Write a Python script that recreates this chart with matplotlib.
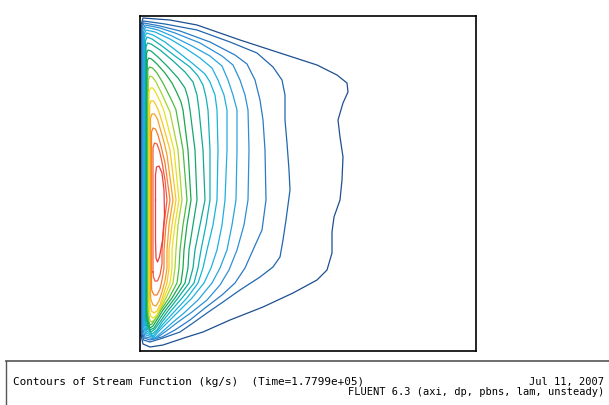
import matplotlib
matplotlib.use("Agg")
import matplotlib.pyplot as plt
from matplotlib.lines import Line2D

# domain size (mm): radius x height
R_MAX = 33.6
Z_MAX = 33.5

# stream function contour lines, (r, z) in mm, outermost (lowest psi) first
c01 = [(0.1, 1.6), (0.1, 32.6), (0.3, 33.3), (3.0, 33.1), (5.7, 32.6), (10.0, 31.1), (14.0, 29.8),
       (17.7, 28.6), (19.7, 27.6), (20.7, 26.8), (20.8, 25.9), (20.3, 24.8), (19.8, 23.1), (20.0, 21.4),
       (20.3, 19.4), (20.2, 17.1), (20.0, 15.1), (19.4, 13.4), (19.2, 11.9), (19.2, 9.8), (18.7, 8.1),
       (17.7, 7.1), (15.3, 5.8), (12.3, 4.4), (9.0, 3.1), (6.3, 1.9), (4.7, 1.4), (2.3, 0.6), (1.0, 0.4),
       (0.3, 0.7)]
c02 = [(0.15, 1.9), (0.15, 32.5), (0.35, 33.0), (2.5, 32.7), (5.7, 32.1), (9.0, 30.9), (11.7, 29.8),
       (13.3, 28.4), (14.2, 27.1), (14.5, 25.6), (14.5, 23.1), (14.7, 20.8), (14.9, 18.1), (15.0, 16.1),
       (14.8, 14.6), (14.6, 13.1), (14.3, 11.1), (14.0, 9.4), (13.3, 8.4), (12.0, 7.4), (10.0, 6.1),
       (8.3, 4.9), (6.7, 3.8), (5.3, 2.8), (4.0, 1.9), (2.3, 1.3), (1.0, 0.9), (0.35, 1.1)]
c03 = [(0.2, 2.1), (0.2, 32.3), (0.4, 32.8), (2.0, 32.5), (4.0, 32.0), (7.0, 30.9), (9.5, 29.6),
       (10.7, 28.7), (11.5, 27.1), (12.0, 25.1), (12.3, 23.1), (12.5, 20.1), (12.6, 15.1), (12.2, 12.1),
       (11.3, 10.1), (10.5, 8.3), (9.5, 6.8), (8.2, 5.6), (6.5, 4.3), (5.0, 3.1), (3.5, 2.1), (2.2, 1.4),
       (1.0, 1.1), (0.4, 1.3)]
c04 = [(0.27, 2.3), (0.27, 32.1), (0.5, 32.6), (2.0, 32.3), (3.5, 31.8), (6.0, 30.8), (8.2, 29.5),
       (9.3, 28.6), (10.0, 27.1), (10.5, 25.6), (10.8, 24.1), (10.9, 20.1), (10.8, 15.1), (10.4, 12.6),
       (9.7, 10.1), (8.9, 8.1), (8.0, 6.6), (6.7, 5.1), (5.2, 3.9), (3.8, 2.9), (2.5, 1.9), (1.5, 1.2),
       (0.5, 1.4)]
c05 = [(0.35, 2.5), (0.35, 31.9), (0.55, 32.4), (1.8, 32.1), (3.2, 31.5), (5.2, 30.5), (7.0, 29.5),
       (8.2, 28.5), (8.8, 27.1), (9.3, 25.6), (9.7, 24.1), (9.7, 20.1), (9.6, 15.1), (9.2, 12.6),
       (8.7, 10.1), (8.0, 8.3), (7.2, 6.8), (5.8, 5.1), (4.4, 3.8), (3.2, 2.8), (2.2, 1.9), (1.5, 1.3),
       (0.6, 1.6)]
c06 = [(0.42, 2.7), (0.42, 31.7), (0.6, 32.1), (1.5, 31.9), (3.0, 31.2), (4.5, 30.3), (6.0, 29.3),
       (7.2, 28.3), (7.8, 27.1), (8.4, 25.6), (8.7, 24.1), (8.7, 20.1), (8.5, 15.1), (8.2, 12.6),
       (7.7, 10.1), (7.1, 8.3), (6.4, 6.8), (5.2, 5.3), (3.8, 3.9), (2.7, 2.8), (1.9, 2.0), (1.4, 1.4),
       (0.65, 1.8)]
c07 = [(0.48, 2.9), (0.48, 31.4), (0.65, 31.8), (1.3, 31.6), (2.5, 30.9), (3.8, 29.9), (5.2, 28.8),
       (6.5, 27.7), (7.0, 26.9), (7.5, 25.6), (7.7, 24.1), (7.8, 20.1), (7.7, 15.1), (7.3, 12.6),
       (6.7, 10.1), (6.3, 8.3), (5.8, 6.8), (4.7, 5.3), (3.4, 3.9), (2.4, 2.8), (1.8, 2.1), (1.3, 1.5),
       (0.7, 2.0)]
c08 = [(0.54, 3.1), (0.54, 31.0), (0.7, 31.4), (1.2, 31.2), (2.2, 30.5), (3.5, 29.5), (5.0, 28.4),
       (5.8, 27.5), (6.3, 26.6), (6.6, 25.4), (6.8, 24.1), (7.0, 20.1), (7.0, 15.1), (6.6, 12.6),
       (6.1, 10.1), (5.8, 8.3), (5.4, 6.8), (4.2, 5.3), (3.0, 3.9), (2.2, 2.9), (1.7, 2.1), (1.2, 1.7),
       (0.75, 2.2)]
c09 = [(0.6, 3.3), (0.6, 30.4), (0.75, 30.8), (1.1, 30.7), (2.0, 30.1), (3.2, 29.1), (4.5, 27.9),
       (5.3, 26.9), (5.7, 25.6), (5.9, 24.1), (6.3, 20.1), (6.5, 15.1), (6.0, 12.6), (5.5, 10.1),
       (5.3, 8.3), (4.9, 6.8), (3.8, 5.3), (2.7, 3.9), (2.0, 2.9), (1.5, 2.2), (1.1, 1.9), (0.8, 2.4)]
c10 = [(0.66, 3.5), (0.66, 29.8), (0.8, 30.1), (1.1, 30.0), (1.8, 29.4), (2.8, 28.4), (3.8, 27.3),
       (4.5, 26.3), (4.8, 25.3), (5.0, 24.1), (5.5, 20.1), (5.7, 15.1), (5.3, 12.6), (4.9, 10.1),
       (4.8, 8.3), (4.5, 6.8), (3.5, 5.3), (2.5, 4.0), (1.9, 3.1), (1.4, 2.3), (1.0, 2.1), (0.8, 2.6)]
c11 = [(0.72, 3.7), (0.72, 29.0), (0.87, 29.3), (1.15, 29.2), (1.7, 28.7), (2.5, 27.8), (3.2, 26.8),
       (3.7, 25.8), (4.1, 24.9), (4.3, 24.1), (4.8, 20.1), (5.1, 15.1), (4.7, 12.6), (4.4, 10.1),
       (4.3, 8.3), (4.1, 6.8), (3.2, 5.3), (2.3, 4.1), (1.8, 3.3), (1.3, 2.5), (1.0, 2.3), (0.85, 2.8)]
c12 = [(0.78, 3.9), (0.78, 28.1), (0.95, 28.4), (1.25, 28.3), (1.7, 27.8), (2.3, 26.8), (2.8, 25.8),
       (3.2, 25.0), (3.6, 24.1), (4.3, 20.1), (4.7, 15.1), (4.3, 12.6), (4.0, 10.1), (3.9, 8.3),
       (3.7, 6.8), (2.9, 5.3), (2.1, 4.1), (1.6, 3.3), (1.2, 2.7), (1.0, 2.6), (0.85, 3.1)]
c13 = [(0.84, 4.1), (0.84, 27.1), (1.0, 27.5), (1.25, 27.4), (1.6, 26.9), (2.1, 25.9), (2.5, 25.0),
       (3.0, 23.9), (3.8, 20.1), (4.2, 15.1), (3.8, 12.6), (3.6, 10.1), (3.5, 8.3), (3.3, 6.8),
       (2.6, 5.3), (2.0, 4.1), (1.6, 3.3), (1.2, 2.9), (1.0, 3.0), (0.9, 3.5)]
c14 = [(0.9, 4.6), (0.9, 25.9), (1.05, 26.3), (1.3, 26.3), (1.6, 25.8), (2.0, 25.0), (2.4, 24.0),
       (3.4, 20.1), (3.9, 15.1), (3.5, 12.6), (3.2, 10.1), (3.2, 8.3), (3.0, 6.8), (2.4, 5.3),
       (2.0, 4.3), (1.7, 3.6), (1.3, 3.3), (1.05, 3.5), (0.95, 4.1)]
c15 = [(0.97, 5.1), (0.97, 24.6), (1.1, 25.0), (1.35, 25.0), (1.6, 24.6), (1.9, 23.9), (2.3, 22.6),
       (3.0, 20.1), (3.6, 15.1), (3.2, 12.6), (2.9, 10.1), (2.9, 8.3), (2.7, 6.8), (2.3, 5.5),
       (2.0, 4.6), (1.7, 4.0), (1.4, 3.8), (1.15, 4.0), (1.02, 4.6)]
c16 = [(1.05, 5.6), (1.05, 23.3), (1.2, 23.7), (1.45, 23.7), (1.75, 23.2), (2.0, 22.3), (2.4, 20.9),
       (2.7, 19.6), (3.3, 15.1), (2.9, 12.6), (2.7, 10.1), (2.7, 8.3), (2.5, 7.0), (2.2, 5.9),
       (1.9, 5.0), (1.6, 4.5), (1.3, 4.6), (1.1, 5.1)]
c17 = [(1.15, 6.3), (1.15, 21.9), (1.3, 22.3), (1.55, 22.2), (1.8, 21.6), (2.1, 20.5), (2.5, 18.8),
       (3.0, 15.1), (2.6, 12.6), (2.4, 10.1), (2.4, 8.3), (2.2, 7.1), (2.0, 6.2), (1.7, 5.6),
       (1.4, 5.6), (1.2, 6.0)]
c18 = [(1.3, 7.9), (1.3, 20.3), (1.45, 20.8), (1.7, 20.7), (1.95, 20.0), (2.2, 18.9), (2.5, 17.1),
       (2.7, 15.1), (2.4, 12.6), (2.2, 10.1), (2.2, 8.7), (2.0, 7.6), (1.75, 7.0), (1.5, 7.0),
       (1.35, 7.4)]
c19 = [(1.55, 15.1), (1.55, 17.6), (1.65, 18.4), (1.9, 18.5), (2.2, 17.8), (2.4, 16.1), (2.45, 13.6),
       (2.25, 11.1), (1.95, 9.4), (1.75, 8.9), (1.6, 9.3), (1.55, 11.1)]

contours = [c01, c02, c03, c04, c05, c06, c07, c08, c09, c10,
            c11, c12, c13, c14, c15, c16, c17, c18, c19]
contour_colors = ['#1d4f91', '#2166ac', '#2b7bc4', '#2f8fd4', '#29a3dc', '#1fb0e0', '#18b4d8',
                  '#12b0b8', '#10aa98', '#12a870', '#18a850', '#4cbc40', '#a8d430', '#e8e020',
                  '#f8c820', '#f8a028', '#f87c30', '#f45a3c', '#f03c3c']

title_text = "Contours of Stream Function (kg/s)  (Time=1.7799e+05)"
date_text = "Jul 11, 2007"
solver_text = "FLUENT 6.3 (axi, dp, pbns, lam, unsteady)"

fig = plt.figure(figsize=(6.09, 4.05), dpi=100)
ax = fig.add_axes([140 / 609, 54 / 405, 336 / 609, 335 / 405])

for pts, col in zip(contours, contour_colors):
    r = [p[0] for p in pts] + [pts[0][0]]
    z = [p[1] for p in pts] + [pts[0][1]]
    ax.plot(r, z, color=col, lw=0.9, solid_joinstyle='round')

ax.set_xlim(0, R_MAX)
ax.set_ylim(0, Z_MAX)
ax.set_xticks([])
ax.set_yticks([])
for s in ax.spines.values():
    s.set_linewidth(1.2)
    s.set_color('black')

# caption panel at the bottom
sep_y = 1 - 361 / 405
fig.add_artist(Line2D([6 / 609, 1], [sep_y, sep_y], color='#555555', lw=1.2))
fig.add_artist(Line2D([6 / 609, 6 / 609], [0, sep_y], color='#555555', lw=1.0))

fig.text(13 / 609, 1 - 382 / 405, title_text, ha='left', va='center',
         family='DejaVu Sans Mono', size=7.95, color='black')
fig.text(604 / 609, 1 - 382 / 405, date_text, ha='right', va='center',
         family='DejaVu Sans Mono', size=7.5, color='black')
fig.text(604 / 609, 1 - 392 / 405, solver_text, ha='right', va='center',
         family='DejaVu Sans Mono', size=7.5, color='black')

fig.savefig('out.png', dpi=100)
